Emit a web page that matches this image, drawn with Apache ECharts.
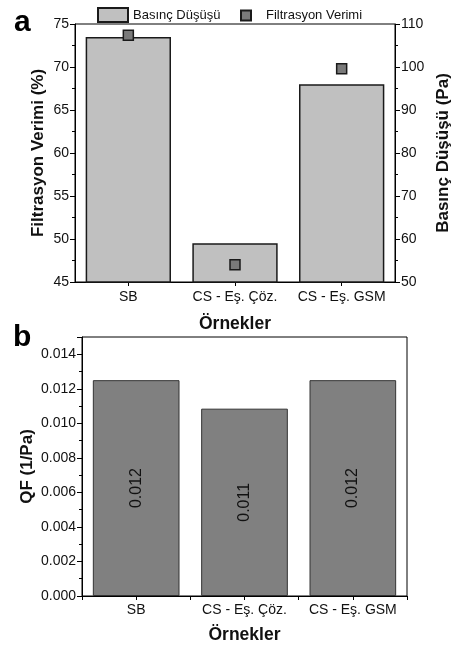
<!DOCTYPE html>
<html>
<head>
<meta charset="utf-8">
<script src="https://cdn.jsdelivr.net/npm/echarts@6/dist/echarts.min.js"></script>
<style>
html,body{margin:0;padding:0;background:#fff;}
#c{width:460px;height:646px;}
</style>
</head>
<body>
<div id="c"></div>
<script>
const categories = ['SB', 'CS - Eş. Çöz.', 'CS - Eş. GSM'];
const pressureDrop = [107.0, 59.0, 96.0];      // Basınç Düşüşü (Pa), right axis
const filtrationEff = [73.7, 47.0, 69.8];      // Filtrasyon Verimi (%), left axis
const qfValues = [0.0125, 0.01085, 0.0125];    // QF (1/Pa)
const qfLabels = ['0.012', '0.011', '0.012'];
const effTicks = {min: 45, max: 75, interval: 5};
const dpTicks = {min: 50, max: 110, interval: 10};
const qfTicks = {min: 0, max: 0.015, interval: 0.002};

const FONT = 'Liberation Sans, Arial, sans-serif';
const black = '#000';
const txt = '#111';

const chart = echarts.init(document.getElementById('c'), null, {renderer: 'canvas'});

function yAx(grid, cfg, extra) {
  return Object.assign({
    type: 'value', gridIndex: grid,
    min: cfg.min, max: cfg.max, interval: cfg.interval,
    axisLine: {show: true, lineStyle: {color: black, width: 1}},
    axisTick: {show: true, inside: false, length: 5, lineStyle: {color: black}},
    minorTick: {show: true, splitNumber: 2, length: 3, lineStyle: {color: black}},
    splitLine: {show: false},
    axisLabel: {fontSize: 14, color: txt, fontFamily: FONT, margin: 6},
    nameLocation: 'middle',
    nameMoveOverlap: false,
    nameTextStyle: {fontSize: 17, fontWeight: 'bold', color: txt, fontFamily: FONT}
  }, extra);
}

const option = {
  animation: false,
  backgroundColor: '#fff',
  textStyle: {fontFamily: FONT},
  grid: [
    {left: 75, width: 322, top: 24, height: 258, show: true, borderColor: black, borderWidth: 1, backgroundColor: 'transparent'},
    {left: 82, width: 325, top: 337, height: 259, show: true, borderColor: black, borderWidth: 1, backgroundColor: 'transparent'}
  ],
  legend: [
    {data: [{name: 'Basınç Düşüşü', icon: 'rect'}], left: 97, top: 7, padding: 0, itemWidth: 30, itemHeight: 14,
     textStyle: {fontSize: 13, color: txt, fontFamily: FONT}},
    {data: [{name: 'Filtrasyon Verimi', icon: 'rect'}], left: 240, top: 9, padding: 0, itemWidth: 10, itemHeight: 10,
     textStyle: {fontSize: 13, color: txt, fontFamily: FONT, padding: [0, 0, 0, 10]}}
  ],
  xAxis: [
    {gridIndex: 0, type: 'category', data: categories,
     axisLine: {show: true, onZero: false, lineStyle: {color: black}},
     axisTick: {show: true, alignWithLabel: true, length: 4, lineStyle: {color: black}},
     axisLabel: {fontSize: 14, color: txt, fontFamily: FONT, margin: 8, interval: 0, hideOverlap: false},
     name: 'Örnekler', nameLocation: 'middle', nameGap: 33, nameMoveOverlap: false,
     nameTextStyle: {fontSize: 17.5, fontWeight: 'bold', color: txt, fontFamily: FONT}},
    {gridIndex: 1, type: 'category', data: categories,
     axisLine: {show: true, onZero: false, lineStyle: {color: black}},
     axisTick: {show: true, alignWithLabel: true, length: 4, lineStyle: {color: black}},
     axisLabel: {fontSize: 14, color: txt, fontFamily: FONT, margin: 7, interval: 0, hideOverlap: false},
     name: 'Örnekler', nameLocation: 'middle', nameGap: 30, nameMoveOverlap: false,
     nameTextStyle: {fontSize: 17.5, fontWeight: 'bold', color: txt, fontFamily: FONT}},
    {gridIndex: 1, type: 'category', data: categories, position: 'bottom',
     axisLine: {show: false, onZero: false},
     axisTick: {show: true, alignWithLabel: false, interval: 0, length: 4, lineStyle: {color: black}},
     axisLabel: {show: false}}
  ],
  yAxis: [
    yAx(0, effTicks, {position: 'left', name: 'Filtrasyon Verimi (%)', nameGap: 28}),
    yAx(0, dpTicks, {position: 'right', name: 'Basınç Düşüşü (Pa)', nameGap: 40, nameRotate: 90}),
    yAx(1, qfTicks, {position: 'left', name: 'QF (1/Pa)', nameGap: 46,
      axisLabel: {fontSize: 14, color: txt, fontFamily: FONT, margin: 6, showMaxLabel: false,
        formatter: v => v.toFixed(3)}})
  ],
  series: [
    {name: 'Basınç Düşüşü', type: 'bar', xAxisIndex: 0, yAxisIndex: 1, data: pressureDrop,
     barWidth: '80%', clip: true,
     itemStyle: {color: '#c0c0c0', borderColor: '#1a1a1a', borderWidth: 1.5}},
    {name: 'Filtrasyon Verimi', type: 'scatter', xAxisIndex: 0, yAxisIndex: 0, data: filtrationEff,
     symbol: 'rect', symbolSize: 10, z: 5,
     itemStyle: {color: '#7a7a7a', borderColor: '#1a1a1a', borderWidth: 1.5, opacity: 1}},
    {name: 'QF', type: 'bar', xAxisIndex: 1, yAxisIndex: 2, data: qfValues,
     barWidth: '80%',
     itemStyle: {color: '#808080', borderColor: '#333', borderWidth: 1},
     label: {show: true, position: 'inside', rotate: 90, fontSize: 16, color: txt, fontFamily: FONT,
       formatter: p => qfLabels[p.dataIndex]}}
  ],
  graphic: [
    {type: 'text', left: 14, top: 8, style: {text: 'a', font: 'bold 30px ' + FONT, fill: black}},
    {type: 'text', left: 13, top: 323, style: {text: 'b', font: 'bold 30px ' + FONT, fill: black}}
  ]
};
chart.setOption(option);
</script>
</body>
</html>
